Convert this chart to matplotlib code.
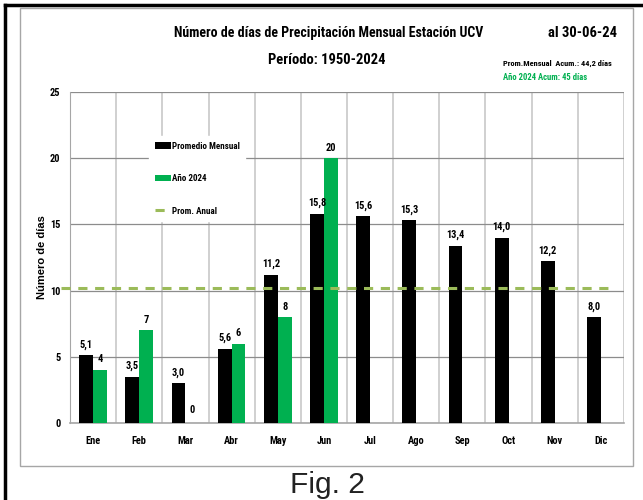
import numpy as np
import matplotlib
matplotlib.use('Agg')
from matplotlib import pyplot as plt
from matplotlib.lines import Line2D
from matplotlib.patches import Rectangle

plt.rcParams['font.family'] = ['Roboto Condensed', 'Open Sans Condensed', 'DejaVu Sans']
plt.rcParams['font.stretch'] = 'condensed'

# meses
meses = ['Ene', 'Feb', 'Mar', 'Abr', 'May', 'Jun', 'Jul', 'Ago', 'Sep', 'Oct', 'Nov', 'Dic']
# promedio mensual 1950-2024
promedio = [5.1, 3.5, 3.0, 5.6, 11.2, 15.8, 15.6, 15.3, 13.4, 14.0, 12.2, 8.0]
# año 2024 (hasta junio)
anio_2024 = [4, 7, 0, 6, 8, 20]
# promedio anual
prom_anual = 10.2

negro = '#000000'
verde = '#00B050'
verde_linea = '#9BBB59'

fig = plt.figure(figsize=(6.43, 5.0), dpi=100)

# marco de la figura
fig.add_artist(Line2D([5 / 643, 5 / 643], [0, 1 - 5 / 500], color='black', lw=2.5))
fig.add_artist(Line2D([5 / 643, 1], [1 - 5 / 500, 1 - 5 / 500], color='black', lw=2.5))
fig.add_artist(Rectangle((20 / 643, 34 / 500), 613 / 643, 458 / 500, fill=False,
                         edgecolor='#A6A6A6', lw=1.0))

ax = fig.add_axes([70 / 643, 77 / 500, 554 / 643, 331 / 500])

x = np.arange(len(meses))
w = 0.30
b1 = ax.bar(x - w / 2, promedio, w, color=negro, label='Promedio Mensual', zorder=3)
x2 = x[:len(anio_2024)]
b2 = ax.bar(x2 + w / 2, anio_2024, w, color=verde, label='Año 2024', zorder=3)
ln, = ax.plot([-0.7, 11.2], [prom_anual, prom_anual], ls=(0, (3, 2.5)), color=verde_linea,
              lw=2.2, label='Prom. Anual', zorder=4, clip_on=False)

for xi, v in zip(x, promedio):
    ax.annotate(('%.1f' % v).replace('.', ','), (xi - w / 2, v), xytext=(0, 4),
                textcoords='offset points', ha='center', va='bottom',
                fontsize=7.5, fontweight='bold')
for xi, v in zip(x2, anio_2024):
    off = 6 if v == 0 else 4
    ax.annotate('%d' % v, (xi + w / 2, v), xytext=(0, off),
                textcoords='offset points', ha='center', va='bottom',
                fontsize=7.5, fontweight='bold')

ax.set_xlim(-0.5, 11.5)
ax.set_ylim(0, 25)
ax.set_yticks([0, 5, 10, 15, 20, 25])
ax.set_xticks(x)
ax.set_xticklabels(meses, fontsize=7.5, fontweight='bold')
ax.set_xticks(np.arange(-0.5, 12, 1), minor=True)
ax.tick_params(axis='y', labelsize=7.5, length=0, pad=7)
ax.tick_params(axis='x', which='both', length=0, pad=9)
for lb in ax.get_yticklabels():
    lb.set_fontweight('bold')
ax.grid(axis='y', color='#8C8C8C', lw=0.9, zorder=0)
ax.grid(axis='x', which='minor', color='#C8C8C8', lw=1.2, zorder=0)
ax.grid(axis='x', which='major', visible=False)
for s in ['top', 'right']:
    ax.spines[s].set_visible(False)
ax.spines['left'].set_color('#A6A6A6')
ax.spines['bottom'].set_color('#A6A6A6')
ax.spines['bottom'].set_linewidth(1.2)
ax.set_ylabel('Número de días', fontsize=8, fontweight='bold', family=['Liberation Sans', 'DejaVu Sans'],
              stretch='normal')
ax.yaxis.set_label_coords(-23 / 554, 0.5)

leg = ax.legend(handles=[b1, b2, ln], loc='upper left', bbox_to_anchor=(0.135, 0.88), frameon=True,
                labelspacing=2.6, handlelength=1.8, handletextpad=0.1, borderpad=0.6,
                prop={'weight': 'bold', 'size': 6.5})
leg.get_frame().set_edgecolor('white')
leg.get_frame().set_facecolor('white')
leg.get_frame().set_alpha(1)
leg.set_zorder(5)

fig.text(329 / 643, 1 - 33 / 500, 'Número de días de Precipitación Mensual Estación UCV',
         ha='center', va='center', fontsize=10, fontweight='bold')
fig.text(327 / 643, 1 - 60 / 500, 'Período: 1950-2024', ha='center', va='center',
         fontsize=10.5, fontweight='bold')
fig.text(583 / 643, 1 - 33 / 500, 'al 30-06-24', ha='center', va='center',
         fontsize=10.5, fontweight='bold')
fig.text(503 / 643, 1 - 63 / 500, 'Prom.Mensual  Acum.: 44,2 días', ha='left', va='center',
         fontsize=6, fontweight='bold')
fig.text(503 / 643, 1 - 78 / 500, 'Año 2024 Acum: 45 días', ha='left', va='center',
         fontsize=6.2, fontweight='bold', color=verde)
fig.text(327 / 643, 1 - 493 / 500, 'Fig. 2', ha='center', va='baseline', fontsize=21.5,
         family=['Liberation Sans', 'DejaVu Sans'], stretch='normal', color='#222222')

fig.savefig('out.png', dpi=100)
